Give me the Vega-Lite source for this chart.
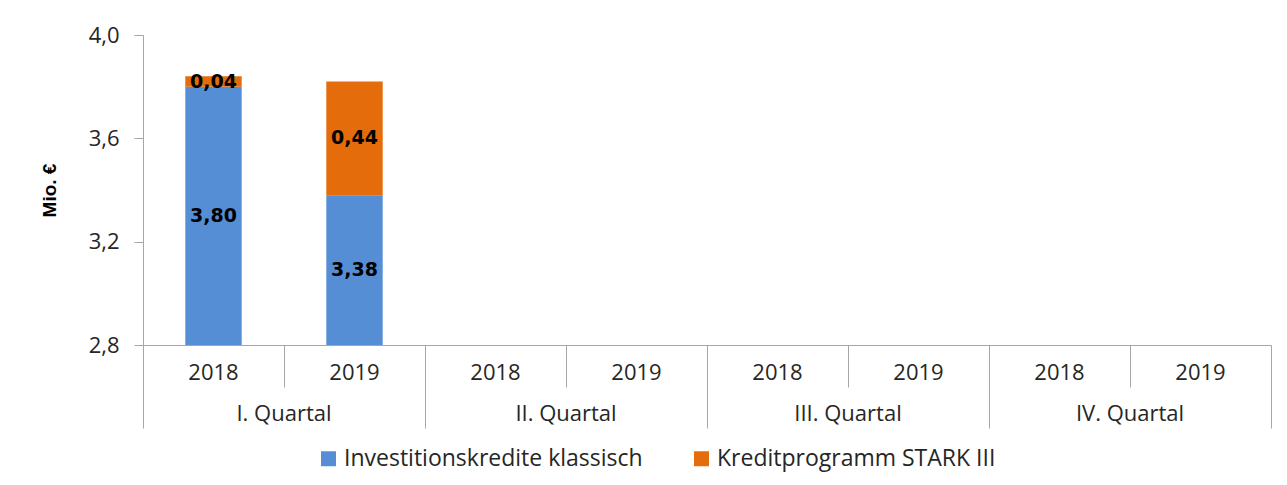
{
  "$schema": "https://vega.github.io/schema/vega-lite/v6.json",
  "width": 1128,
  "height": 310,
  "autosize": "none",
  "padding": {"left": 143, "top": 35, "right": 16, "bottom": 140},
  "background": "white",
  "config": {"view": {"stroke": null}, "font": "Open Sans"},
  "data": {
    "values": [
      {"Quartal": "I. Quartal", "Jahr": "2018", "Periode": "I. Quartal 2018", "Serie": "Investitionskredite klassisch", "Wert": 3.80},
      {"Quartal": "I. Quartal", "Jahr": "2018", "Periode": "I. Quartal 2018", "Serie": "Kreditprogramm STARK III", "Wert": 0.04},
      {"Quartal": "I. Quartal", "Jahr": "2019", "Periode": "I. Quartal 2019", "Serie": "Investitionskredite klassisch", "Wert": 3.38},
      {"Quartal": "I. Quartal", "Jahr": "2019", "Periode": "I. Quartal 2019", "Serie": "Kreditprogramm STARK III", "Wert": 0.44}
    ]
  },
  "transform": [
    {"stack": "Wert", "groupby": ["Periode"], "sort": [{"field": "Serie", "order": "ascending"}], "as": ["y0", "y1"]},
    {"calculate": "(max(datum.y0, 2.8) + datum.y1) / 2", "as": "mid"},
    {"calculate": "replace(format(datum.Wert, '.2f'), '.', ',')", "as": "label"}
  ],
  "layer": [
    {
      "layer": [
        {
          "mark": {"type": "bar", "clip": true, "width": {"band": 0.4}},
          "encoding": {
            "x": {
              "field": "Periode", "type": "nominal",
              "scale": {"type": "band", "domain": ["I. Quartal 2018", "I. Quartal 2019", "II. Quartal 2018", "II. Quartal 2019", "III. Quartal 2018", "III. Quartal 2019", "IV. Quartal 2018", "IV. Quartal 2019"], "paddingInner": 0, "paddingOuter": 0},
              "axis": {"title": null, "labelExpr": "slice(datum.value, -4)", "labelAngle": 0, "bandPosition": 0, "labelOffset": 0, "tickSize": 42, "tickColor": "#A6A6A6", "domainColor": "#A6A6A6", "labelFont": "Open Sans", "labelFontSize": 22, "labelColor": "#262626", "labelPadding": -25}
            },
            "y": {
              "field": "y1", "type": "quantitative",
              "scale": {"domain": [2.8, 4.0], "zero": false, "nice": false},
              "axis": {"title": "Mio. €", "titleFont": "Liberation Sans", "titleFontWeight": "bold", "titleFontSize": 19, "titleColor": "black", "titlePadding": 29, "values": [2.8, 3.2, 3.6, 4.0], "labelExpr": "replace(format(datum.value, '.1f'), '.', ',')", "grid": false, "tickSize": 9, "labelPadding": 15, "labelFont": "Open Sans", "labelFontSize": 22, "labelColor": "#262626", "tickColor": "#A6A6A6", "domainColor": "#A6A6A6"}
            },
            "y2": {"field": "y0"},
            "color": {
              "field": "Serie", "type": "nominal",
              "scale": {"domain": ["Investitionskredite klassisch", "Kreditprogramm STARK III"], "range": ["#558ED5", "#E46C0A"]},
              "legend": {"orient": "none", "legendX": 174, "legendY": 412, "direction": "horizontal", "title": null, "symbolType": "square", "symbolSize": 225, "symbolStrokeWidth": 0, "labelFont": "Open Sans", "labelFontSize": 23, "labelColor": "#262626", "labelLimit": 400, "columnPadding": 47, "labelOffset": 4}
            }
          }
        },
        {
          "mark": {"type": "text", "font": "DejaVu Sans", "fontWeight": "bold", "fontSize": 19, "color": "black", "baseline": "middle"},
          "encoding": {
            "x": {"field": "Periode", "type": "nominal"},
            "y": {"field": "mid", "type": "quantitative"},
            "text": {"field": "label"}
          }
        }
      ]
    },
    {
      "mark": {"type": "point", "opacity": 0},
      "encoding": {
        "x": {
          "field": "Quartal", "type": "nominal",
          "scale": {"type": "band", "domain": ["I. Quartal", "II. Quartal", "III. Quartal", "IV. Quartal", " "], "range": [0, 1410], "paddingInner": 0, "paddingOuter": 0},
          "axis": {"title": null, "orient": "bottom", "domain": false, "labelAngle": 0, "bandPosition": 0, "labelOffset": 0, "tickSize": 83, "tickColor": "#A6A6A6", "labelFont": "Open Sans", "labelFontSize": 22, "labelColor": "#262626", "labelPadding": -25}
        },
        "y": {"field": "mid", "type": "quantitative"}
      }
    }
  ],
  "resolve": {"scale": {"x": "independent"}}
}
